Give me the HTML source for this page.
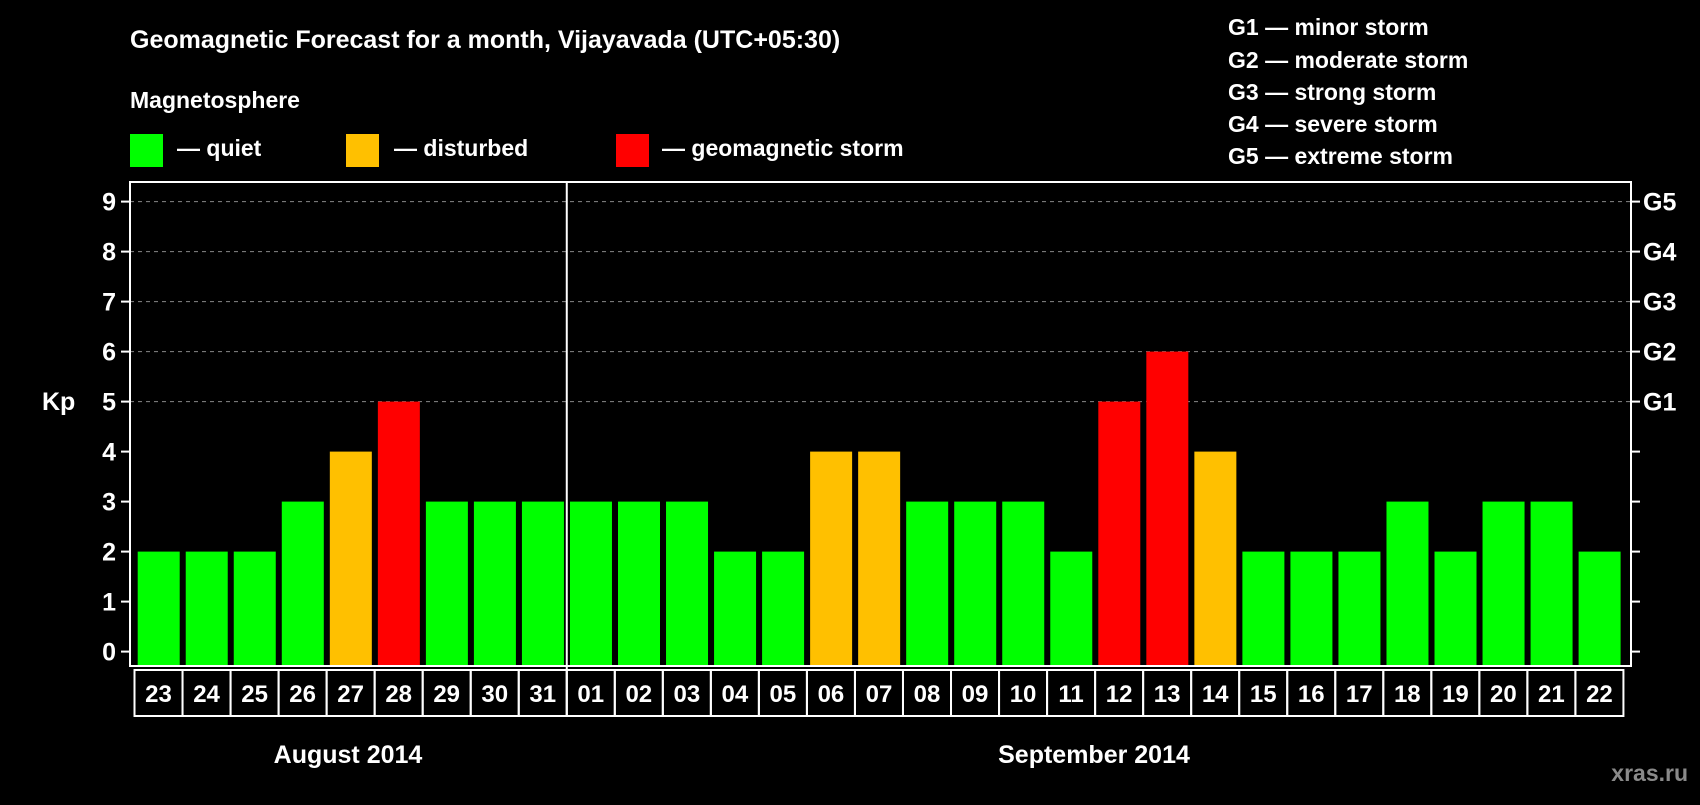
<!DOCTYPE html>
<html><head><meta charset="utf-8"><style>
body{margin:0;background:#000;width:1700px;height:800px;overflow:hidden}
svg text{font-family:"Liberation Sans",Arial,sans-serif;font-weight:bold;fill:#fff}
</style></head><body>
<svg id="c" width="1700" height="800">
<text x="130" y="48" font-size="25">Geomagnetic Forecast for a month, Vijayavada (UTC+05:30)</text>
<text x="130" y="108" font-size="23">Magnetosphere</text>
<rect x="130" y="134" width="33" height="33" fill="#00ff00"/>
<text x="177" y="156" font-size="23">— quiet</text>
<rect x="346" y="134" width="33" height="33" fill="#ffc000"/>
<text x="394" y="156" font-size="23">— disturbed</text>
<rect x="616" y="134" width="33" height="33" fill="#ff0000"/>
<text x="662" y="156" font-size="23">— geomagnetic storm</text>
<g font-size="23">
<text x="1228" y="35">G1 — minor storm</text>
<text x="1228" y="68">G2 — moderate storm</text>
<text x="1228" y="100">G3 — strong storm</text>
<text x="1228" y="132">G4 — severe storm</text>
<text x="1228" y="164">G5 — extreme storm</text>
</g>
<text x="42" y="410" font-size="25">Kp</text>
<text x="348" y="763" font-size="25" text-anchor="middle">August 2014</text>
<text x="1094" y="763" font-size="25" text-anchor="middle">September 2014</text>
<text x="1688" y="781" font-size="23" text-anchor="end" style="fill:#8a8a8a">xras.ru</text>
<g id="plot"></g>
</svg>
<script>
const days=["23","24","25","26","27","28","29","30","31","01","02","03","04","05","06","07","08","09","10","11","12","13","14","15","16","17","18","19","20","21","22"];
const kp=[2,2,2,3,4,5,3,3,3,3,3,3,2,2,4,4,3,3,3,2,5,6,4,2,2,2,3,2,3,3,2];
const yTicks=[0,1,2,3,4,5,6,7,8,9];
const gLabels=["G1","G2","G3","G4","G5"];
const gLevels=[5,6,7,8,9];
const NS="http://www.w3.org/2000/svg";
const g=document.getElementById('plot');
const L=130,R=1631,T=182,B=666,x0=134.5,pitch=48.03;
const y=v=>651.6-v*50;
const xc=i=>x0+i*pitch;
function mk(t,a){const e=document.createElementNS(NS,t);for(const k in a)e.setAttribute(k,a[k]);g.appendChild(e);return e;}
yTicks.forEach(v=>{
 if(v>=5){const l=mk('line',{x1:L,x2:R,y1:y(v),y2:y(v),stroke:'#888','stroke-dasharray':'4 4','stroke-width':1});
 
 }
 const t1=mk('line',{x1:L-9,x2:L,y1:y(v),y2:y(v),stroke:'#fff','stroke-width':2});
 
 
 const t2=mk('line',{x1:R,x2:R+9,y1:y(v),y2:y(v),stroke:'#fff','stroke-width':2});
 
 
 const tx=mk('text',{x:L-14,y:y(v)+9,'font-size':25,'text-anchor':'end'});tx.textContent=v;
 
 
});
gLabels.forEach((s,i)=>{const t=mk('text',{x:R+12,y:y(gLevels[i])+9,'font-size':25});t.textContent=s;
 
 });
kp.forEach((v,i)=>{
 const col=v>=5?'#ff0000':(v>=4?'#ffc000':'#00ff00');
 const r=mk('rect',{x:xc(i)+3.2,y:y(v),width:42,height:B-y(v)-1,fill:col});
 
 
 const c=mk('rect',{x:xc(i),y:670,width:pitch,height:46,fill:'none',stroke:'#fff','stroke-width':2});
 
 
 const t=mk('text',{x:xc(i)+pitch/2,y:702,'font-size':24,'text-anchor':'middle'});t.textContent=days[i];
 
 
});
const f=mk('rect',{x:L,y:T,width:R-L,height:B-T,fill:'none',stroke:'#fff','stroke-width':2});


const d=mk('line',{x1:xc(9),x2:xc(9),y1:T,y2:716,stroke:'#fff','stroke-width':2});


</script>
</body></html>
